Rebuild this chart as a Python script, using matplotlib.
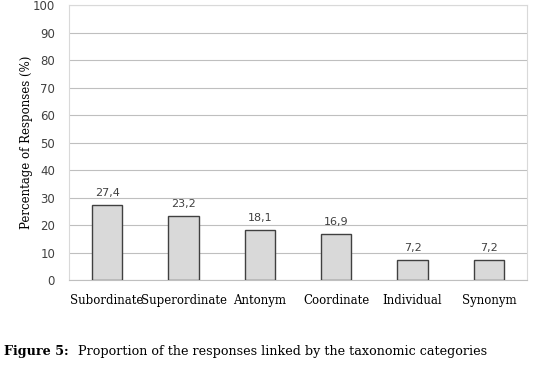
import matplotlib.pyplot as plt
import numpy as np

categories = ["Subordinate", "Superordinate", "Antonym", "Coordinate", "Individual", "Synonym"]
values = [27.4, 23.2, 18.1, 16.9, 7.2, 7.2]
value_labels = ["27,4", "23,2", "18,1", "16,9", "7,2", "7,2"]
yticks = list(range(0, 101, 10))

fig = plt.figure(figsize=(5.36, 3.67), dpi=100)
ax = fig.add_axes([69 / 536, 1 - 280 / 367, (527 - 69) / 536, 275 / 367])

x = np.arange(len(categories))
ax.bar(x, values, width=0.4, color="#d9d9d9", edgecolor="#404040", linewidth=1, zorder=3)
for xi, v, lab in zip(x, values, value_labels):
    ax.annotate(lab, (xi, v), xytext=(0, 5), textcoords="offset points",
                ha="center", va="bottom", fontsize=8, color="#404040", family="DejaVu Sans")

ax.set_xlim(-0.5, len(categories) - 0.5)
ax.set_ylim(0, 100)
ax.set_yticks(yticks)
ax.set_yticklabels([str(t) for t in yticks], fontsize=8.5, color="#404040", family="DejaVu Sans")
ax.set_xticks(x)
ax.set_xticklabels(categories, fontsize=8.5, family="DejaVu Serif", color="black")
ax.tick_params(length=0)
ax.tick_params(axis="x", pad=10)
ax.tick_params(axis="y", pad=10)
ax.grid(axis="y", color="#bfbfbf", linewidth=0.8, zorder=0)
for s in ax.spines.values():
    s.set_color("#d9d9d9")
    s.set_linewidth(0.8)
ax.spines["bottom"].set_color("#bfbfbf")

ax.set_ylabel("Percentage of Responses (%)", fontsize=8.5, family="DejaVu Serif")
ax.yaxis.set_label_coords(-0.079, 0.5)

fig.text(4 / 536, 1 - 352 / 367, "Figure 5:", fontsize=9.2, fontweight="bold",
         family="DejaVu Serif", va="center")
fig.text(78 / 536, 1 - 352 / 367, "Proportion of the responses linked by the taxonomic categories",
         fontsize=9.2, family="DejaVu Serif", va="center")

fig.savefig("out.png", dpi=100)
